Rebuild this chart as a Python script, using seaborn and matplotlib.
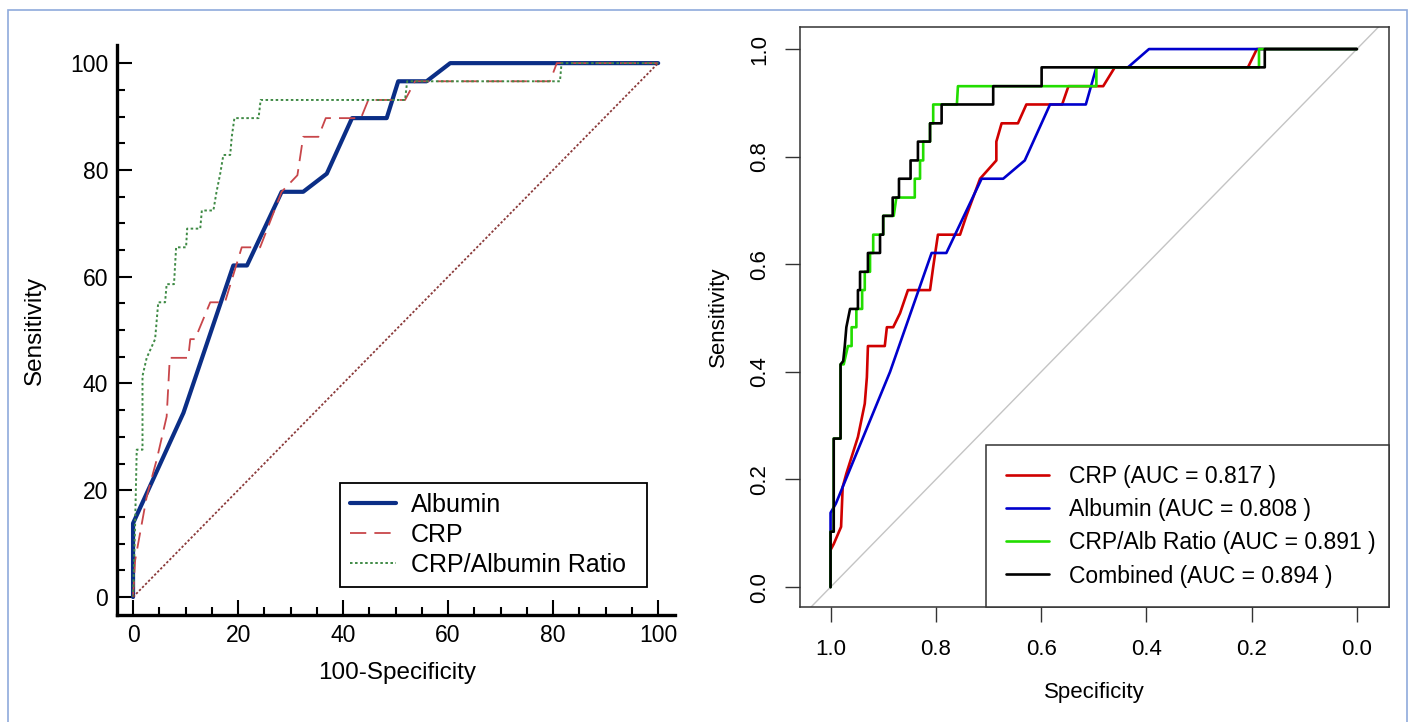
#!/usr/bin/env python
import numpy as np
import pandas as pd
import matplotlib
matplotlib.use('Agg')
import matplotlib.pyplot as plt
from matplotlib.patches import Rectangle
from matplotlib.ticker import MultipleLocator, FormatStrFormatter
import seaborn as sns

## left panel (MedCalc style): 100-Specificity vs Sensitivity, in %
albumin_fpr = [0, 0, 9.6, 19.1, 21.7, 28.3, 32.4, 36.9, 41.7, 48.3, 50.5, 55.9, 60.4, 100]
albumin_sens = [0, 13.8, 34.5, 62.1, 62.1, 75.9, 75.9, 79.3, 89.7, 89.7, 96.6, 96.6, 100, 100]

crp_fpr = [0, 0.4, 2.6, 4.5, 6.4, 7.0, 10.5, 10.9, 11.8, 14.7, 17.5, 20.7, 24.2, 28.3, 31.3,
           32.4, 35.3, 36.7, 43.4, 44.8, 51.8, 53.7, 79.4, 80.7, 100]
crp_sens = [0, 6.9, 18.8, 25.7, 33.8, 44.8, 44.8, 48.3, 48.3, 55.2, 55.2, 65.5, 65.5, 75.9, 79.0,
            86.2, 86.2, 89.7, 89.7, 93.1, 93.1, 96.6, 96.6, 100, 100]

ratio_fpr = [0, 0.4, 0.7, 1.8, 1.8, 2.6, 4.2, 4.8, 6.1, 6.4, 7.8, 8.2, 10.1, 10.3, 12.8, 13.1,
             15.3, 15.9, 16.6, 17.2, 18.5, 18.8, 19.3, 23.9, 24.3, 51.8, 52.2, 81.3, 81.6, 100]
ratio_sens = [0, 13.8, 27.6, 27.6, 41.4, 44.8, 48.3, 55.2, 55.2, 58.6, 58.6, 65.5, 65.5, 69.0, 69.0, 72.4,
              72.4, 75.9, 79.3, 82.8, 82.8, 86.2, 89.7, 89.7, 93.1, 93.1, 96.6, 96.6, 100, 100]

left_labels = ['Albumin', 'CRP', 'CRP/Albumin Ratio']
ref_left = [0, 100]

## right panel (pROC style): Specificity (reversed) vs Sensitivity
crp_spec = [1.0, 1.0, 0.994, 0.98, 0.977, 0.97, 0.948, 0.935, 0.931, 0.929, 0.897, 0.893, 0.881,
            0.868, 0.853, 0.811, 0.805, 0.796, 0.754, 0.742, 0.716, 0.685, 0.685, 0.675, 0.644,
            0.628, 0.56, 0.548, 0.482, 0.46, 0.207, 0.19, 0.0]
crp_se = [0.0, 0.069, 0.08, 0.112, 0.186, 0.211, 0.279, 0.341, 0.39, 0.448, 0.448, 0.483, 0.483,
          0.509, 0.552, 0.552, 0.595, 0.655, 0.655, 0.69, 0.759, 0.793, 0.828, 0.862, 0.862,
          0.897, 0.897, 0.931, 0.931, 0.966, 0.966, 1.0, 1.0]

alb_spec = [1.0, 1.0, 0.99, 0.887, 0.808, 0.78, 0.713, 0.672, 0.631, 0.583, 0.515, 0.495,
            0.435, 0.395, 0.0]
alb_se = [0.0, 0.138, 0.155, 0.40, 0.621, 0.621, 0.759, 0.759, 0.793, 0.897, 0.897, 0.966,
          0.966, 1.0, 1.0]

ratio_spec = [1.0, 1.0, 0.994, 0.994, 0.981, 0.981, 0.975, 0.967, 0.96, 0.96, 0.951, 0.951, 0.94,
              0.94, 0.935, 0.935, 0.925, 0.925, 0.919, 0.919, 0.9, 0.9, 0.88, 0.875, 0.84, 0.84,
              0.83, 0.83, 0.824, 0.824, 0.811, 0.811, 0.805, 0.805, 0.76, 0.758, 0.495, 0.495,
              0.186, 0.186, 0.0]
ratio_se = [0.0, 0.103, 0.103, 0.276, 0.276, 0.414, 0.414, 0.448, 0.448, 0.483, 0.483, 0.517, 0.517,
            0.552, 0.552, 0.586, 0.586, 0.621, 0.621, 0.655, 0.655, 0.69, 0.69, 0.724, 0.724, 0.759,
            0.759, 0.793, 0.793, 0.828, 0.828, 0.862, 0.862, 0.897, 0.897, 0.931, 0.931, 0.966,
            0.966, 1.0, 1.0]

comb_spec = [1.0, 1.0, 0.994, 0.994, 0.981, 0.981, 0.976, 0.973, 0.97, 0.963, 0.948, 0.948, 0.944,
             0.944, 0.929, 0.929, 0.906, 0.906, 0.9, 0.9, 0.882, 0.882, 0.87, 0.87, 0.848, 0.848,
             0.834, 0.834, 0.811, 0.811, 0.789, 0.789, 0.691, 0.691, 0.599, 0.599, 0.175, 0.175, 0.0]
comb_se = [0.0, 0.103, 0.103, 0.276, 0.276, 0.414, 0.42, 0.448, 0.483, 0.517, 0.517, 0.552, 0.552,
           0.586, 0.586, 0.621, 0.621, 0.655, 0.655, 0.69, 0.69, 0.724, 0.724, 0.759, 0.759, 0.793,
           0.793, 0.828, 0.828, 0.862, 0.862, 0.897, 0.897, 0.931, 0.931, 0.966, 0.966, 1.0, 1.0]

right_labels = ['CRP (AUC = 0.817 )', 'Albumin (AUC = 0.808 )',
                'CRP/Alb Ratio (AUC = 0.891 )', 'Combined (AUC = 0.894 )']


def draw_line(ax, x, y, **kw):
    df = pd.DataFrame({'x': x, 'y': y})
    sns.lineplot(data=df, x='x', y='y', sort=False, estimator=None, ax=ax, **kw)


sns.set_style('white')
plt.rcParams['font.family'] = ['Liberation Sans', 'DejaVu Sans']
# plain black text everywhere (seaborn greys it otherwise)
for k in ['text.color', 'axes.labelcolor', 'xtick.color', 'ytick.color', 'xtick.labelcolor', 'ytick.labelcolor']:
    plt.rcParams[k] = 'black'

fig = plt.figure(figsize=(14.1, 7.22), dpi=100)

# thin blue frame round the whole figure
fig.patches.append(Rectangle((0.0057, -0.01), 0.9922, 0.996, transform=fig.transFigure,
                             fill=False, edgecolor='#8FAADC', linewidth=1.2))

## left panel
ax1 = fig.add_axes([0.083, 0.1482, 0.3957, 0.7895])
draw_line(ax1, albumin_fpr, albumin_sens, color='#0B2E86', linewidth=3, label=left_labels[0])
draw_line(ax1, crp_fpr, crp_sens, color='#C8464A', linewidth=1.3,
          linestyle=(0, (9, 4.5)), label=left_labels[1])
draw_line(ax1, ratio_fpr, ratio_sens, color='#3F8A45', linewidth=1.4,
          linestyle=(0, (1.3, 1.3)), label=left_labels[2])
draw_line(ax1, ref_left, ref_left, color='#8B3A3A', linewidth=1.3,
          linestyle=(0, (1.3, 1.1)), label='_nolegend_')

ax1.set_xlim(-3.05, 103.2)
ax1.set_ylim(-3.37, 103.4)
ax1.xaxis.set_major_locator(MultipleLocator(20))
ax1.xaxis.set_minor_locator(MultipleLocator(5))
ax1.yaxis.set_major_locator(MultipleLocator(20))
ax1.yaxis.set_minor_locator(MultipleLocator(5))
sns.despine(ax=ax1)
for s in ['left', 'bottom']:
    ax1.spines[s].set_linewidth(2.4)
    ax1.spines[s].set_color('black')
ax1.tick_params(which='major', direction='in', length=10.8, width=1.5, labelsize=16.5, pad=6.5,
                color='black', left=True, bottom=True)
ax1.tick_params(which='minor', direction='in', length=5.8, width=1.5, color='black',
                left=True, bottom=True)
ax1.set_xlabel('100-Specificity', fontsize=17.5)
ax1.set_ylabel('Sensitivity', fontsize=17.5)
ax1.xaxis.label.set_va('center')
ax1.yaxis.label.set_va('center')
ax1.xaxis.set_label_coords(0.502, -0.102)
ax1.yaxis.set_label_coords(-0.147, 0.5)

leg1 = ax1.legend(loc='lower left', bbox_to_anchor=(0.3996, 0.0491, 0.5502, 0.1825),
                  mode='expand', borderaxespad=0, fontsize=18, frameon=True, fancybox=False,
                  edgecolor='black', framealpha=1, borderpad=0.4, labelspacing=0.25,
                  handlelength=1.85, handletextpad=0.6)
leg1.get_frame().set_linewidth(1.3)

## right panel
ax2 = fig.add_axes([0.5674, 0.1593, 0.4177, 0.8033])
ax2.axline((1, 0), (0, 1), color='#C4C4C4', linewidth=1.0, zorder=1)
right_series = [(crp_spec, crp_se, '#D00000'), (alb_spec, alb_se, '#0000CC'),
                (ratio_spec, ratio_se, '#22DD00'), (comb_spec, comb_se, 'black')]
for (sp, se, col), lab in zip(right_series, right_labels):
    draw_line(ax2, sp, se, color=col, linewidth=1.9, label=lab)

ax2.set_xlim(1.058, -0.061)
ax2.set_ylim(-0.037, 1.041)
ax2.set_xticks(np.arange(0, 1.01, 0.2))
ax2.set_yticks(np.arange(0, 1.01, 0.2))
ax2.xaxis.set_major_formatter(FormatStrFormatter('%.1f'))
ax2.yaxis.set_major_formatter(FormatStrFormatter('%.1f'))
for s in ax2.spines.values():
    s.set_visible(True)
    s.set_linewidth(1.1)
    s.set_color('#333333')
ax2.tick_params(axis='both', direction='out', length=10.8, width=1.0, color='#333333',
                labelsize=16, left=True, bottom=True)
ax2.tick_params(axis='x', pad=12)
ax2.tick_params(axis='y', pad=10.8, labelrotation=90)
for lab in ax2.get_yticklabels():
    lab.set_va('center')
ax2.set_xlabel('Specificity', fontsize=16)
ax2.set_ylabel('Sensitivity', fontsize=16)
ax2.xaxis.label.set_va('center')
ax2.yaxis.label.set_va('center')
ax2.xaxis.set_label_coords(0.5, -0.148)
ax2.yaxis.set_label_coords(-0.139, 0.5)

leg2 = ax2.legend(loc='lower left', bbox_to_anchor=(0.3158, 0.0, 0.6842, 0.286),
                  mode='expand', borderaxespad=0, fontsize=16.5, frameon=True, fancybox=False,
                  edgecolor='#333333', framealpha=1, borderpad=0.85, labelspacing=0.45,
                  handlelength=1.88, handletextpad=0.9)
leg2.get_frame().set_linewidth(1.1)

plt.savefig('out.png', dpi=100)
print('Done.')
